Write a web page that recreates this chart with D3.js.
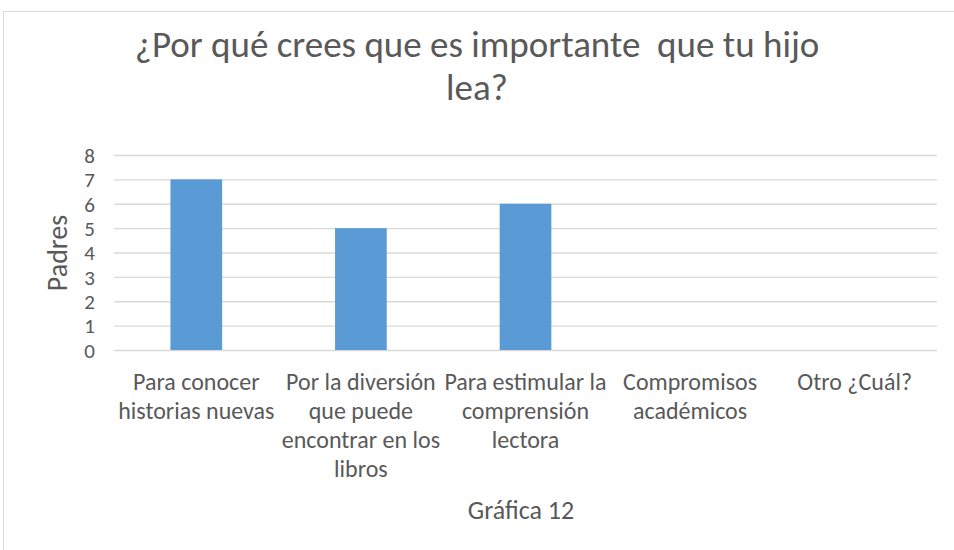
<!DOCTYPE html>
<html>
<head>
<meta charset="utf-8">
<script src="https://cdn.jsdelivr.net/npm/d3@7"></script>
<style>
	body { margin: 0; background: #fff; }
	text { font-family: Carlito, Calibri, Lato, sans-serif; fill: #595959; }
</style>
</head>
<body>
<svg width="954" height="550"></svg>
<script>
	var categories = ['Para conocer historias nuevas', 'Por la diversión que puede encontrar en los libros',
		'Para estimular la comprensión lectora', 'Compromisos académicos', 'Otro ¿Cuál?'];
	var categoryLines = [
		['Para conocer', 'historias nuevas'],
		['Por la diversión', 'que puede', 'encontrar en los', 'libros'],
		['Para estimular la', 'comprensión', 'lectora'],
		['Compromisos', 'académicos'],
		['Otro ¿Cuál?']
	];
	var values = [7, 5, 6, 0, 0];
	var yTicks = [0, 1, 2, 3, 4, 5, 6, 7, 8];
	var titleLines = ['¿Por qué crees que es importante\u00a0 que tu hijo', 'lea?'];
	var yTitle = 'Padres';
	var xTitle = 'Gráfica 12';

	var svg = d3.select('svg');
	var margin = {left: 114, right: 17, top: 155, bottom: 200};
	var width = 954 - margin.left - margin.right;
	var height = 550 - margin.top - margin.bottom;

	// chart border
	svg.append('rect')
		.attr('x', 3.5).attr('y', 11.5)
		.attr('width', 960).attr('height', 560)
		.attr('fill', 'none').attr('stroke', '#d9d9d9');

	var x = d3.scaleBand()
		.domain(categories)
		.range([0, width])
		.paddingInner(0.686)
		.paddingOuter(0.343);
	var y = d3.scaleLinear().domain([0, 8]).range([height, 0]);

	var g = svg.append('g').attr('transform', 'translate(' + margin.left + ',' + margin.top + ')');

	// gridlines
	var yAxis = g.append('g')
		.call(d3.axisLeft(y).tickValues(yTicks).tickSize(-width).tickFormat(d3.format('d')));
	yAxis.select('.domain').remove();
	yAxis.selectAll('line').attr('stroke', '#d9d9d9').attr('stroke-width', 1.3);
	yAxis.selectAll('text').attr('x', -19).attr('dy', '0.35em')
		.style('font-size', '21px').style('fill', '#595959');

	g.selectAll('rect.bar')
		.data(values)
		.enter().append('rect')
			.attr('class', 'bar')
			.attr('x', function(d, i) { return x(categories[i]); })
			.attr('y', function(d) { return y(d); })
			.attr('width', x.bandwidth())
			.attr('height', function(d) { return height - y(d); })
			.attr('fill', '#5b9bd5');

	// category labels
	var xAxis = g.append('g').attr('transform', 'translate(0,' + height + ')');
	categoryLines.forEach(function(lines, i) {
		var t = xAxis.append('text')
			.attr('x', x(categories[i]) + x.bandwidth() / 2)
			.attr('y', 40)
			.attr('text-anchor', 'middle')
			.style('font-size', '24px');
		lines.forEach(function(l, j) {
			t.append('tspan')
				.attr('x', x(categories[i]) + x.bandwidth() / 2)
				.attr('dy', j === 0 ? 0 : 29)
				.text(l);
		});
	});

	svg.append('text')
		.attr('x', 521).attr('y', 519)
		.attr('text-anchor', 'middle')
		.style('font-size', '26px')
		.text(xTitle);

	svg.append('text')
		.attr('transform', 'translate(67,253) rotate(-90)')
		.attr('text-anchor', 'middle')
		.style('font-size', '28px')
		.text(yTitle);

	svg.selectAll('text.title')
		.data(titleLines)
		.enter().append('text')
			.attr('class', 'title')
			.attr('x', 477)
			.attr('y', function(d, i) { return 57 + i * 43; })
			.attr('text-anchor', 'middle')
			.style('font-size', '37px')
			.text(function(d) { return d; });
</script>
</body>
</html>
